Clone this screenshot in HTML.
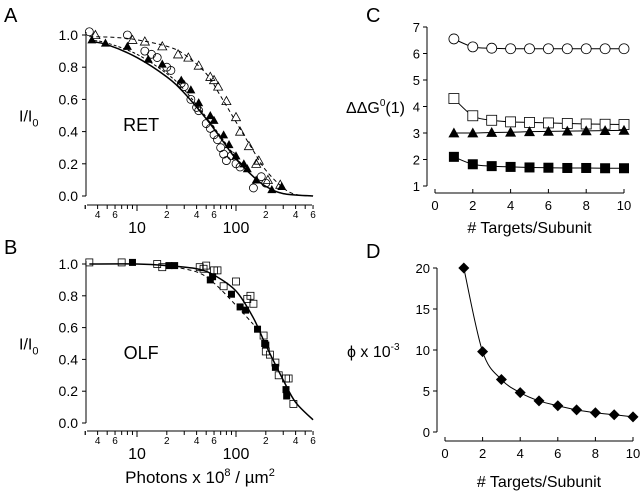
<!DOCTYPE html>
<html><head><meta charset="utf-8"><style>
body{margin:0;background:#fff}
svg{display:block;font-family:"Liberation Sans",sans-serif}
</style></head><body>
<svg id="fig" width="640" height="493" viewBox="0 0 640 493"></svg>
<script>
// ---- Panel A data (log x) ----
const aSolidX=[3.3,5,10,20,30,50,70,100,150,200,300,600];
const aSolidY=[0.96,0.94,0.86,0.74,0.64,0.48,0.36,0.23,0.12,0.06,0.015,0];
const aDashX=[3.3,5,10,20,30,50,70,100,150,200,300,600];
const aDashY=[0.97,0.95,0.88,0.76,0.66,0.49,0.37,0.24,0.12,0.06,0.015,0];
const aDotX=[3.3,6,10,20,30,50,70,100,150,200,300,400,600];
const aDotY=[0.99,0.985,0.97,0.93,0.88,0.76,0.62,0.46,0.28,0.16,0.05,0.01,0];
const aFTriX=[3.5,4.8,8,13,18,28,35,42,55,60,75,85,100,120,130,160,230,290];
const aFTriY=[0.97,0.95,0.93,0.85,0.82,0.72,0.66,0.58,0.50,0.47,0.38,0.32,0.25,0.2,0.17,0.1,0.04,0.06];
const aOCircX=[3.3,8,12,14,16,20,22,28,30,35,40,42,50,55,60,65,70,75,80,90,100,110,150,180,200];
const aOCircY=[1.02,1.0,0.9,0.88,0.86,0.8,0.78,0.7,0.68,0.6,0.55,0.53,0.45,0.42,0.38,0.35,0.3,0.26,0.22,0.25,0.2,0.18,0.05,0.12,0.08];
const aOTriX=[3.8,9,12,18,26,33,42,55,60,66,80,100,110,135,160,170,210,280];
const aOTriY=[1.0,0.97,0.96,0.93,0.88,0.86,0.81,0.74,0.72,0.68,0.59,0.49,0.4,0.31,0.2,0.22,0.1,0.07];
// ---- Panel B data ----
const bSolidX=[3.3,10,20,40,60,100,150,200,300,400,600];
const bSolidY=[1,1.0,0.99,0.97,0.93,0.83,0.66,0.49,0.27,0.13,0.02];
const bDashX=[20,40,60,100,150];
const bDashY=[0.99,0.95,0.88,0.74,0.62];
const bFSqX=[9,21,24,55,58,90,110,125,165,195,200,250,320,325];
const bFSqY=[1.01,0.99,0.99,0.9,0.92,0.81,0.73,0.71,0.59,0.5,0.49,0.35,0.21,0.17];
const bOSqX=[3.3,7,16,18,43,47,50,60,65,75,100,130,140,150,190,200,220,250,270,320,340,380];
const bOSqY=[1.01,1.01,1.0,0.98,0.98,0.97,0.99,0.96,0.96,0.86,0.89,0.78,0.8,0.75,0.55,0.45,0.43,0.38,0.3,0.28,0.28,0.12];
// ---- Panel C data ----
const targets=[1,2,3,4,5,6,7,8,9,10];
const cOCirc=[6.55,6.25,6.2,6.18,6.18,6.18,6.18,6.18,6.18,6.18];
const cOSq=[4.3,3.65,3.48,3.42,3.4,3.38,3.36,3.34,3.33,3.32];
const cFTri=[3.0,3.0,3.02,3.03,3.05,3.06,3.07,3.08,3.09,3.1];
const cFSq=[2.1,1.82,1.75,1.72,1.7,1.69,1.68,1.68,1.67,1.67];
// ---- Panel D data ----
const dPhi=[20,9.8,6.4,4.8,3.8,3.2,2.7,2.35,2.1,1.85];

const svg=document.getElementById('fig');
const NS='http://www.w3.org/2000/svg';
function el(tag,attrs,parent){const e=document.createElementNS(NS,tag);for(const k in attrs)e.setAttribute(k,attrs[k]);(parent||svg).appendChild(e);return e;}
function txt(s,x,y,size,anchor,parent){const t=el('text',{x:x,y:y,'font-size':size,'text-anchor':anchor||'middle',fill:'#000'},parent);t.textContent=s;return t;}
function smooth(pts){let d='M'+pts[0][0]+','+pts[0][1];for(let i=0;i<pts.length-1;i++){const p0=pts[Math.max(0,i-1)],p1=pts[i],p2=pts[i+1],p3=pts[Math.min(pts.length-1,i+2)];const c1=[p1[0]+(p2[0]-p0[0])/6,p1[1]+(p2[1]-p0[1])/6],c2=[p2[0]-(p3[0]-p1[0])/6,p2[1]-(p3[1]-p1[1])/6];d+=' C'+c1+' '+c2+' '+p2;}return d;}
function marker(type,x,y,s,g){
  let m;
  if(type==='ocirc')m=el('circle',{cx:x,cy:y,r:s,fill:'none',stroke:'#000','stroke-width':0.8},g);
  else if(type==='osq')m=el('rect',{x:x-s,y:y-s,width:2*s,height:2*s,fill:'none',stroke:'#000','stroke-width':0.8},g);
  else if(type==='fsq')m=el('rect',{x:x-s,y:y-s,width:2*s,height:2*s,fill:'#000'},g);
  else if(type==='otri')m=el('polygon',{points:`${x},${y-s} ${x-s},${y+s*0.8} ${x+s},${y+s*0.8}`,fill:'none',stroke:'#000','stroke-width':0.8},g);
  else if(type==='ftri')m=el('polygon',{points:`${x},${y-s} ${x-s},${y+s*0.8} ${x+s},${y+s*0.8}`,fill:'#000'},g);
  else if(type==='diam')m=el('polygon',{points:`${x},${y-s} ${x+s},${y} ${x},${y+s} ${x-s},${y}`,fill:'#000'},g);
  return m;
}

// ---------- log panels A & B ----------
function logPanel(name,y1,y0,axY,letter,letterY,label,labelY,xTitle){
  const g=el('g',{},svg);
  
  
  const X=v=>137+(Math.log10(v)-1)*99;
  const Y=v=>y0+(y1-y0)*v;
  const L=txt(letter,4,letterY,20,'start',g);
  
  el('line',{x1:86,y1:y1-3,x2:86,y2:y0,stroke:'#000','stroke-width':1},g);
  [0,0.2,0.4,0.6,0.8,1.0].forEach(v=>{el('line',{x1:82,y1:Y(v),x2:86,y2:Y(v),stroke:'#000'},g);
    const t=txt(v.toFixed(1),78,Y(v)+5,14,'end',g);});
  const yl=el('text',{x:19,y:(y0+y1)/2+6,'font-size':16,fill:'#000'},g);yl.innerHTML='I/I<tspan font-size="11" dy="5">0</tspan>';
  
  el('line',{x1:87,y1:axY,x2:312,y2:axY,stroke:'#000'},g);
  for(let dec=1;dec<=100;dec*=10){for(let m=1;m<=9;m++){const v=m*dec;if(v<3||v>600)continue;const major=(m===1);
    el('line',{x1:X(v),y1:axY,x2:X(v),y2:axY+(major?6:4),stroke:'#000'},g);
    if((dec===1&&(m===4||m===6))||(dec>1&&(m===2||m===4||m===6))){const t=txt(String(m),X(v),axY+13,10,'middle',g);}
    if(major&&v>=10){const t=txt(String(v),X(v),axY+28,16,'middle',g);}
  }}
  el('line',{x1:X(3),y1:axY,x2:X(3),y2:axY+4,stroke:'#000'},g);
  const lt=txt(label,X(11),labelY,18,'middle',g);
  if(xTitle){const xt=el('text',{x:200,y:483,'font-size':17,'text-anchor':'middle',fill:'#000'},g);
    xt.innerHTML='Photons x 10<tspan font-size="11" dy="-7">8</tspan><tspan dy="7"> / µm</tspan><tspan font-size="11" dy="-7">2</tspan>';
    }
  return {g,X,Y};
}
function curve(p,xs,ys,dash,nm){const pts=xs.map((x,i)=>[p.X(x),p.Y(ys[i])]);const c=el('path',{d:smooth(pts),fill:'none',stroke:'#000','stroke-width':dash?1:1.5,'stroke-dasharray':dash||'none'},p.g);}
function pts(p,xs,ys,type,s,nm){xs.forEach((x,i)=>{const m=marker(type,p.X(x),p.Y(ys[i]),s,p.g);});}

const A=logPanel('panel-a',35,196,205,'A',22,'RET',131,false);
curve(A,aSolidX,aSolidY,null,'fit-curve-solid');
curve(A,aDashX,aDashY,'3,2','fit-curve-dashed');
curve(A,aDotX,aDotY,'4,3','fit-curve-open-triangles');
pts(A,aOCircX,aOCircY,'ocirc',4,'point-open-circle');
pts(A,aOTriX,aOTriY,'otri',4.5,'point-open-triangle');
pts(A,aFTriX,aFTriY,'ftri',4.5,'point-filled-triangle');

const B=logPanel('panel-b',264,423,431,'B',254,'OLF',359,true);
curve(B,bSolidX,bSolidY,null,'fit-curve-solid');
curve(B,bDashX,bDashY,'4,3','fit-curve-dashed');
pts(B,bOSqX,bOSqY,'osq',3.5,'point-open-square');
pts(B,bFSqX,bFSqY,'fsq',3.5,'point-filled-square');

// ---------- linear panels C & D ----------
function linPanel(name,letter,letterY,x0px,x10px,yAxX,yTop,yBot,vMin,vMax,step,axY,xTitleY){
  const g=el('g',{},svg);
  
  
  const X=v=>x0px+(x10px-x0px)*v/10;
  const Y=v=>yBot-(yBot-yTop)*(v-vMin)/(vMax-vMin);
  const L=txt(letter,366,letterY,20,'start',g);
  el('line',{x1:yAxX,y1:yTop,x2:yAxX,y2:yBot,stroke:'#000'},g);
  for(let v=vMin;v<=vMax;v+=step){el('line',{x1:yAxX-4,y1:Y(v),x2:yAxX,y2:Y(v),stroke:'#000'},g);
    const t=txt(String(v),yAxX-7,Y(v)+5,13,'end',g);}
  el('line',{x1:X(0),y1:axY,x2:X(10),y2:axY,stroke:'#000'},g);
  for(let v=0;v<=10;v+=2){el('line',{x1:X(v),y1:axY-4,x2:X(v),y2:axY,stroke:'#000'},g);
    const t=txt(String(v),X(v),axY+17,13,'middle',g);}
  const xt=txt('# Targets/Subunit',(X(0)+X(10))/2,xTitleY,16,'middle',g);
  return {g,X,Y};
}
function linSeries(p,ys,type,s,nm){
  const pp=targets.map((t,i)=>[p.X(t),p.Y(ys[i])]);
  const c=el('path',{d:smooth(pp),fill:'none',stroke:'#000','stroke-width':1},p.g);
  
  targets.forEach((t,i)=>{const m=marker(type,p.X(t),p.Y(ys[i]),s,p.g);
    if(type==='ocirc'||type==='osq')m.setAttribute('fill','#fff');
    });
}
const C=linPanel('panel-c','C',22,435,624,427,27,186,1,7,1,193,233);
const cyl=el('text',{x:346,y:113,'font-size':16,fill:'#000'},C.g);cyl.innerHTML='ΔΔG<tspan font-size="10" dy="-7">0</tspan><tspan dy="7">(1)</tspan>';

linSeries(C,cOCirc,'ocirc',5,'open-circle-series');
linSeries(C,cOSq,'osq',5,'open-square-series');
linSeries(C,cFTri,'ftri',5.5,'filled-triangle-series');
linSeries(C,cFSq,'fsq',5,'filled-square-series');

const D=linPanel('panel-d','D',258,445,633,437,268,432,0,20,5,441,487);
const dyl=el('text',{x:347,y:357,'font-size':16,fill:'#000'},D.g);dyl.innerHTML='ϕ x 10<tspan font-size="10" dy="-7">-3</tspan>';

linSeries(D,dPhi,'diam',5.5,'phi-series');
</script>
</body></html>
